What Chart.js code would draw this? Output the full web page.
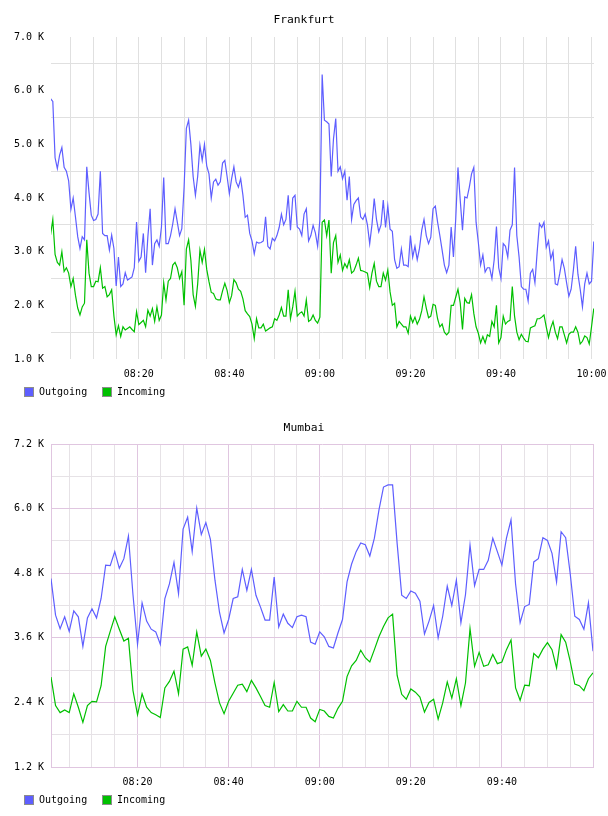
<!DOCTYPE html>
<html>
<head>
<meta charset="utf-8">
<script src="https://cdn.jsdelivr.net/npm/chart.js@4/dist/chart.umd.min.js"></script>
<style>
  body { margin: 0; background: #fff; }
  canvas { display: block; }
</style>
</head>
<body>
<canvas id="frankfurt-chart" width="608" height="408"></canvas>
<canvas id="mumbai-chart" width="608" height="408"></canvas>
<script>
// Frankfurt: one sample every 30 s, first at 08:00:30 (values in K)
const frankStartMin = 0.5, frankStepMin = 0.5;
const frankOut = [
  5.85, 5.8, 4.75, 4.55, 4.8, 4.94, 4.57, 4.5, 4.32, 3.79,
  4.0, 3.65, 3.28, 3.06, 3.28, 3.22, 4.58, 4.1, 3.68, 3.58,
  3.6, 3.7, 4.5, 3.34, 3.3, 3.3, 3.03, 3.31, 3.06, 2.36,
  2.9, 2.35, 2.4, 2.61, 2.47, 2.5, 2.53, 2.7, 3.55, 2.82,
  2.9, 3.34, 2.61, 3.28, 3.8, 2.75, 3.15, 3.22, 3.1, 3.46,
  4.38, 3.15, 3.15, 3.3, 3.52, 3.8, 3.55, 3.3, 3.43, 4.2,
  5.3, 5.45, 5.0, 4.4, 4.05, 4.4, 4.98, 4.7, 5.0, 4.6,
  4.45, 4.0, 4.3, 4.35, 4.24, 4.3, 4.65, 4.7, 4.4, 4.08,
  4.36, 4.58, 4.3, 4.2, 4.36, 4.05, 3.64, 3.68, 3.34, 3.2,
  2.96, 3.18, 3.16, 3.17, 3.2, 3.65, 3.1, 3.05, 3.25, 3.2,
  3.3, 3.45, 3.7, 3.5, 3.6, 4.05, 3.4, 4.0, 4.05, 3.46,
  3.42, 3.3, 3.7, 3.8, 3.2, 3.3, 3.49, 3.35, 3.1, 3.6,
  6.3, 5.45, 5.42, 5.38, 4.4, 5.1, 5.48, 4.5, 4.58, 4.36,
  4.5, 3.96, 4.4, 3.6, 3.88, 3.95, 4.0, 3.65, 3.6, 3.7,
  3.5, 3.15, 3.5, 3.99, 3.6, 3.37, 3.5, 3.96, 3.45, 3.85,
  3.42, 3.38, 2.85, 2.69, 2.72, 3.05, 2.75, 2.75, 2.72, 3.3,
  2.9, 3.1, 2.85, 3.06, 3.4, 3.6, 3.3, 3.15, 3.27, 3.8,
  3.85, 3.55, 3.3, 3.03, 2.75, 2.61, 2.75, 3.46, 2.9, 3.6,
  4.57, 3.96, 3.4, 4.02, 4.0, 4.2, 4.45, 4.57, 3.55, 3.17,
  2.75, 2.94, 2.62, 2.7, 2.7, 2.5, 2.85, 3.47, 2.7, 2.5,
  3.15, 3.1, 2.9, 3.4, 3.5, 4.57, 3.3, 2.9, 2.35, 2.3,
  2.3, 2.08, 2.6, 2.67, 2.42, 3.0, 3.52, 3.45, 3.55, 3.08,
  3.2, 2.86, 3.0, 2.4, 2.38, 2.6, 2.85, 2.69, 2.42, 2.17,
  2.3, 2.66, 3.1, 2.58, 2.3, 1.97, 2.4, 2.6, 2.4, 2.45, 3.19
];
const frankIn = [
  3.31, 3.6, 2.95, 2.8, 2.75, 3.0, 2.63, 2.7, 2.6, 2.35,
  2.5, 2.19, 1.95, 1.82, 1.97, 2.04, 3.22, 2.6, 2.35, 2.35,
  2.45, 2.44, 2.7, 2.32, 2.35, 2.16, 2.2, 2.29, 1.8, 1.45,
  1.62, 1.42, 1.6, 1.54, 1.57, 1.6, 1.55, 1.51, 1.88, 1.64,
  1.68, 1.72, 1.6, 1.91, 1.8, 1.94, 1.7, 1.97, 1.72, 1.82,
  2.42, 2.1, 2.45, 2.5, 2.75, 2.8, 2.7, 2.5, 2.63, 2.0,
  3.05, 3.22, 2.84, 2.2, 1.98, 2.4, 3.03, 2.8, 3.04, 2.67,
  2.44, 2.24, 2.22, 2.12, 2.1, 2.1, 2.27, 2.41, 2.28, 2.05,
  2.18, 2.48, 2.42, 2.3, 2.26, 2.12, 1.9, 1.84, 1.79, 1.65,
  1.38, 1.75, 1.58, 1.58, 1.65, 1.52, 1.55, 1.58, 1.6, 1.75,
  1.72, 1.82, 1.96, 1.8, 1.8, 2.29, 1.75, 1.97, 2.26, 1.8,
  1.85, 1.88, 1.8, 2.1, 1.7, 1.73, 1.82, 1.72, 1.67, 1.78,
  3.55, 3.59, 3.3, 3.59, 2.6, 3.17, 3.3, 2.8, 2.94, 2.65,
  2.78, 2.7, 2.85, 2.6, 2.64, 2.75, 2.88, 2.65, 2.64, 2.62,
  2.6, 2.33, 2.6, 2.78, 2.45, 2.35, 2.35, 2.6, 2.47, 2.66,
  2.25, 2.0, 2.04, 1.6, 1.7, 1.65, 1.6, 1.6, 1.48, 1.8,
  1.68, 1.78, 1.65, 1.74, 1.9, 2.16, 1.95, 1.77, 1.8, 2.02,
  2.0, 1.75, 1.6, 1.65, 1.5, 1.45, 1.5, 2.0, 2.0, 2.15,
  2.3, 2.04, 1.55, 2.13, 2.05, 2.04, 2.2, 1.85, 1.6, 1.48,
  1.3, 1.42, 1.3, 1.45, 1.42, 1.7, 1.6, 2.0, 1.3, 1.4,
  1.8, 1.65, 1.7, 1.72, 2.35, 1.8, 1.5, 1.36, 1.46, 1.39,
  1.33, 1.32, 1.58, 1.6, 1.62, 1.75, 1.75, 1.78, 1.82, 1.6,
  1.4, 1.58, 1.7, 1.5, 1.38, 1.6, 1.6, 1.45, 1.3, 1.46,
  1.5, 1.5, 1.6, 1.5, 1.28, 1.33, 1.43, 1.4, 1.28, 1.6, 1.94
];

// Mumbai: one sample a minute, first at 08:01 (values in K)
const mumStartMin = 1, mumStepMin = 1;
const mumOut = [
  4.7, 4.02, 3.77, 3.99, 3.72, 4.1, 3.99, 3.44, 3.97, 4.14,
  3.97, 4.33, 4.95, 4.94, 5.2, 4.89, 5.07, 5.49, 4.4, 3.48,
  4.25, 3.91, 3.76, 3.71, 3.48, 4.33, 4.6, 5.0, 4.42, 5.62,
  5.84, 5.2, 6.01, 5.52, 5.74, 5.43, 4.67, 4.07, 3.69, 3.94,
  4.33, 4.36, 4.87, 4.48, 4.87, 4.39, 4.17, 3.93, 3.93, 4.73,
  3.8, 4.04, 3.87, 3.79, 3.99, 4.02, 3.99, 3.52, 3.48, 3.71,
  3.62, 3.44, 3.41, 3.69, 3.94, 4.64, 4.97, 5.2, 5.36, 5.33,
  5.12, 5.45, 5.97, 6.4, 6.44, 6.44, 5.35, 4.39, 4.33, 4.47,
  4.43, 4.28, 3.67, 3.91, 4.2, 3.6, 4.0, 4.56, 4.2, 4.67,
  3.88, 4.4, 5.32, 4.57, 4.87, 4.87, 5.04, 5.45, 5.2, 4.95,
  5.45, 5.79, 4.6, 3.88, 4.18, 4.22, 5.01, 5.07, 5.46, 5.41,
  5.17, 4.64, 5.57, 5.46, 4.79, 4.0, 3.94, 3.76, 4.25, 3.35
];
const mumIn = [
  2.87, 2.34, 2.21, 2.26, 2.21, 2.56, 2.31, 2.03, 2.34, 2.42,
  2.41, 2.71, 3.44, 3.72, 3.99, 3.76, 3.54, 3.59, 2.62, 2.17,
  2.56, 2.31, 2.21, 2.17, 2.12, 2.67, 2.79, 2.98, 2.56, 3.39,
  3.43, 3.09, 3.71, 3.26, 3.39, 3.18, 2.76, 2.39, 2.19, 2.42,
  2.57, 2.72, 2.74, 2.6, 2.81, 2.67, 2.51, 2.34, 2.31, 2.77,
  2.23, 2.36, 2.24, 2.24, 2.42, 2.31, 2.31, 2.11, 2.04, 2.27,
  2.24, 2.14, 2.11, 2.29, 2.42, 2.88, 3.08, 3.18, 3.37, 3.23,
  3.15, 3.38, 3.62, 3.81, 3.97, 4.04, 2.9, 2.55, 2.46, 2.65,
  2.59, 2.5, 2.22, 2.4, 2.46, 2.09, 2.39, 2.78, 2.48, 2.84,
  2.34, 2.76, 3.77, 3.07, 3.33, 3.07, 3.1, 3.29, 3.12, 3.15,
  3.38, 3.56, 2.67, 2.44, 2.72, 2.71, 3.31, 3.23, 3.39, 3.51,
  3.38, 3.04, 3.66, 3.52, 3.16, 2.74, 2.71, 2.62, 2.84, 2.95
];

const outColor = '#5e5eff',
inColor = '#00c000',
font = '"DejaVu Sans Mono", monospace';

function toPoints(values, start, step) {
    return values.map((v, i) => ({x: start + i * step, y: v}));
}

function clock(minutes) {
    const h = 8 + Math.floor(minutes / 60), m = minutes % 60;
    return String(h).padStart(2, '0') + ':' + String(m).padStart(2, '0');
}

// title on top, legend boxes under the x labels
const titleAndLegend = {
    id: 'titleAndLegend',
    afterDraw(chart, args, opts) {
        const ctx = chart.ctx;
        ctx.save();
        ctx.fillStyle = '#000';
        ctx.font = '11.3px ' + font;
        ctx.textAlign = 'center';
        ctx.textBaseline = 'middle';
        ctx.fillText(opts.title, chart.width / 2, 20);

        ctx.font = '10px ' + font;
        ctx.textAlign = 'left';
        let x = 24;
        chart.data.datasets.forEach(ds => {
            ctx.fillStyle = ds.borderColor;
            ctx.fillRect(x, 387, 10, 10);
            ctx.strokeStyle = '#8c8c8c';
            ctx.lineWidth = 1;
            ctx.strokeRect(x + 0.5, 387.5, 9, 9);
            ctx.fillStyle = '#000';
            ctx.fillText(ds.label, x + 15, 392.5);
            x += 78;
        });
        ctx.restore();
    }
};

function makeDatasets(outVals, inVals, start, step) {
    return [{
        label: 'Outgoing',
        data: toPoints(outVals, start, step),
        borderColor: outColor,
        backgroundColor: outColor,
        borderWidth: 1.2,
        pointRadius: 0,
        tension: 0
    }, {
        label: 'Incoming',
        data: toPoints(inVals, start, step),
        borderColor: inColor,
        backgroundColor: inColor,
        borderWidth: 1.2,
        pointRadius: 0,
        tension: 0
    }];
}

// keep the x labels from pushing the plot in from the sides
function noSidePadding(scale) {
    scale.paddingLeft = 0;
    scale.paddingRight = 0;
}

function createFrankfurtChart() {
    const grid = '#e0e0e0';
    new Chart('frankfurt-chart', {
        type: 'line',
        data: {datasets: makeDatasets(frankOut, frankIn, frankStartMin, frankStepMin)},
        options: {
            responsive: false,
            animation: false,
            events: [],
            layout: {padding: {top: 37, left: 9, right: 14, bottom: 19}},
            plugins: {
                legend: {display: false},
                tooltip: {enabled: false},
                titleAndLegend: {title: 'Frankfurt'}
            },
            scales: {
                x: {
                    type: 'linear',
                    min: 0.6,
                    max: 120.55,
                    border: {display: false},
                    grid: {color: grid, drawTicks: false},
                    ticks: {
                        stepSize: 5,
                        includeBounds: false,
                        autoSkip: false,
                        maxRotation: 0,
                        padding: 9,
                        color: '#000',
                        font: {family: font, size: 10},
                        callback: v => v % 20 === 0 ? clock(v) : ''
                    },
                    afterFit: noSidePadding
                },
                y: {
                    min: 1,
                    max: 7,
                    border: {display: false},
                    grid: {
                        drawTicks: false,
                        color: c => Number.isInteger(c.tick.value) ? 'rgba(0,0,0,0)' : grid
                    },
                    ticks: {
                        stepSize: 0.5,
                        autoSkip: false,
                        padding: 7,
                        color: '#000',
                        font: {family: font, size: 10},
                        callback: v => Number.isInteger(v) ? v.toFixed(1) + ' K' : ''
                    },
                    afterFit(scale) { scale.width = 42; }
                }
            }
        },
        plugins: [titleAndLegend]
    });
}
createFrankfurtChart();

function createMumbaiChart() {
    const major = '#e0c6e0', minor = '#e6e2e6';
    new Chart('mumbai-chart', {
        type: 'line',
        data: {datasets: makeDatasets(mumOut, mumIn, mumStartMin, mumStepMin)},
        options: {
            responsive: false,
            animation: false,
            events: [],
            layout: {padding: {top: 36, left: 9, right: 15, bottom: 19}},
            plugins: {
                legend: {display: false},
                tooltip: {enabled: false},
                titleAndLegend: {title: 'Mumbai'}
            },
            scales: {
                x: {
                    type: 'linear',
                    min: 1,
                    max: 120,
                    border: {display: true, color: major},
                    grid: {
                        drawTicks: false,
                        color: c => c.tick.value % 20 === 0 ? major : minor
                    },
                    ticks: {
                        stepSize: 5,
                        includeBounds: false,
                        autoSkip: false,
                        maxRotation: 0,
                        padding: 9,
                        color: '#000',
                        font: {family: font, size: 10},
                        callback: v => (v % 20 === 0 && v < 120) ? clock(v) : ''
                    },
                    afterFit: noSidePadding
                },
                y: {
                    min: 1.2,
                    max: 7.2,
                    border: {display: true, color: major},
                    grid: {
                        drawTicks: false,
                        color: c => Math.round(c.tick.value * 10) % 12 === 0 ? major : minor
                    },
                    ticks: {
                        stepSize: 0.6,
                        autoSkip: false,
                        padding: 7,
                        color: '#000',
                        font: {family: font, size: 10},
                        callback: v => Math.round(v * 10) % 12 === 0 ? v.toFixed(1) + ' K' : ''
                    },
                    afterFit(scale) { scale.width = 42; }
                }
            }
        },
        plugins: [titleAndLegend]
    });
}
createMumbaiChart();
</script>
</body>
</html>
